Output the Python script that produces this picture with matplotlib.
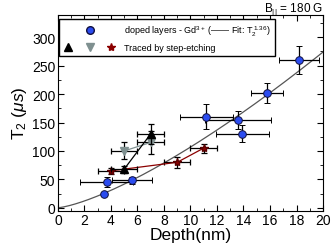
import matplotlib
matplotlib.use("Agg")
import matplotlib.pyplot as plt
import numpy as np
from matplotlib.lines import Line2D
from matplotlib.legend_handler import HandlerTuple
from matplotlib.ticker import MultipleLocator

plt.rcParams['font.family'] = ['Liberation Sans', 'DejaVu Sans']
plt.rcParams['mathtext.fontset'] = 'custom'
plt.rcParams['mathtext.rm'] = 'Liberation Sans'
plt.rcParams['mathtext.it'] = 'Liberation Sans:italic'

# doped layers (blue circles)
dop_x = [3.5, 3.7, 5.6, 11.2, 13.6, 13.9, 15.8, 18.2]
dop_y = [24, 46, 48, 160, 155, 130, 202, 260]
dop_xerr = [0.0, 2.0, 1.5, 2.0, 2.5, 2.0, 1.2, 1.5]
dop_yerr = [4, 9, 7, 22, 16, 15, 18, 25]

# traced by step-etching
blk_x = [5, 7]
blk_y = [68, 130]
blk_xerr = [1.0, 1.0]
blk_yerr = [6, 18]

gry_x = [5, 7]
gry_y = [100, 115]
gry_xerr = [1.0, 1.0]
gry_yerr = [15, 20]

star_x = [4, 9, 11]
star_y = [65, 80, 105]
star_xerr = [1.0, 1.0, 1.0]
star_yerr = [5, 10, 8]

# fit T2 ~ d^1.36
fit_amp = 4.66
fit_exp = 1.36

fig = plt.figure(figsize=(3.33, 2.51), dpi=100)
ax = fig.add_axes([0.174, 0.157, 0.796, 0.781])

d = np.linspace(0, 20, 200)
ax.plot(d, fit_amp * d ** fit_exp, color='#555555', lw=0.9, zorder=2)

eb = dict(ecolor='black', elinewidth=0.9, capsize=2, capthick=0.9)
ax.errorbar(star_x, star_y, xerr=star_xerr, yerr=star_yerr, fmt='*-', color='#8b0000',
            ms=6, mec='#5a0000', lw=0.9, zorder=3, **eb)
ax.errorbar(gry_x, gry_y, xerr=gry_xerr, yerr=gry_yerr, fmt='v-', color='#7f9090',
            ms=6, mec='#7f9090', lw=0.9, zorder=3, **eb)
ax.errorbar(blk_x, blk_y, xerr=blk_xerr, yerr=blk_yerr, fmt='^-', color='black',
            ms=5.5, lw=0.9, zorder=4, **eb)
ax.errorbar(dop_x, dop_y, xerr=dop_xerr, yerr=dop_yerr, fmt='o', color='#2b4cf0',
            ms=5.5, mec='#101040', mew=0.7, zorder=5, **eb)

ax.set_xlim(0, 20)
ax.set_ylim(-5, 340)
ax.xaxis.set_major_locator(MultipleLocator(2))
ax.xaxis.set_minor_locator(MultipleLocator(1))
ax.yaxis.set_major_locator(MultipleLocator(50))
ax.yaxis.set_minor_locator(MultipleLocator(25))
ax.tick_params(which='both', direction='in', top=True, right=True, labelsize=10, pad=2)
ax.tick_params(which='major', length=4)
ax.tick_params(which='minor', length=2)
ax.set_xlabel('Depth(nm)', fontsize=12.5, labelpad=0)
ax.set_ylabel(r'T$_2$ ($\mu s$)', fontsize=12.5, labelpad=2)

blank = Line2D([], [], ls='none', marker=None)
h1 = (blank, Line2D([], [], ls='none', marker='o', color='#2b4cf0', mec='#101040', ms=5.5), blank)
h2 = (Line2D([], [], ls='none', marker='^', color='black', ms=5.5),
      Line2D([], [], ls='none', marker='v', color='#7f9090', ms=6),
      Line2D([], [], ls='none', marker='*', color='#8b0000', ms=6))
ax.legend([h1, h2],
          [r'doped layers - Gd$^{3+}$ (—— Fit: T$_2^{\ 1.36}$)', 'Traced by step-etching'],
          handler_map={tuple: HandlerTuple(ndivide=None, pad=1.27)},
          loc='upper left', fontsize=6.5, handlelength=5.87, handletextpad=0.9,
          frameon=True, fancybox=False, edgecolor='black', framealpha=1,
          borderpad=0.45, labelspacing=0.55, borderaxespad=0,
          bbox_to_anchor=(0.005, 0.975))

fig.text(0.97, 0.995, r'B$_{||}$ = 180 G', ha='right', va='top', fontsize=8.5)

fig.savefig('out.png', dpi=100)
